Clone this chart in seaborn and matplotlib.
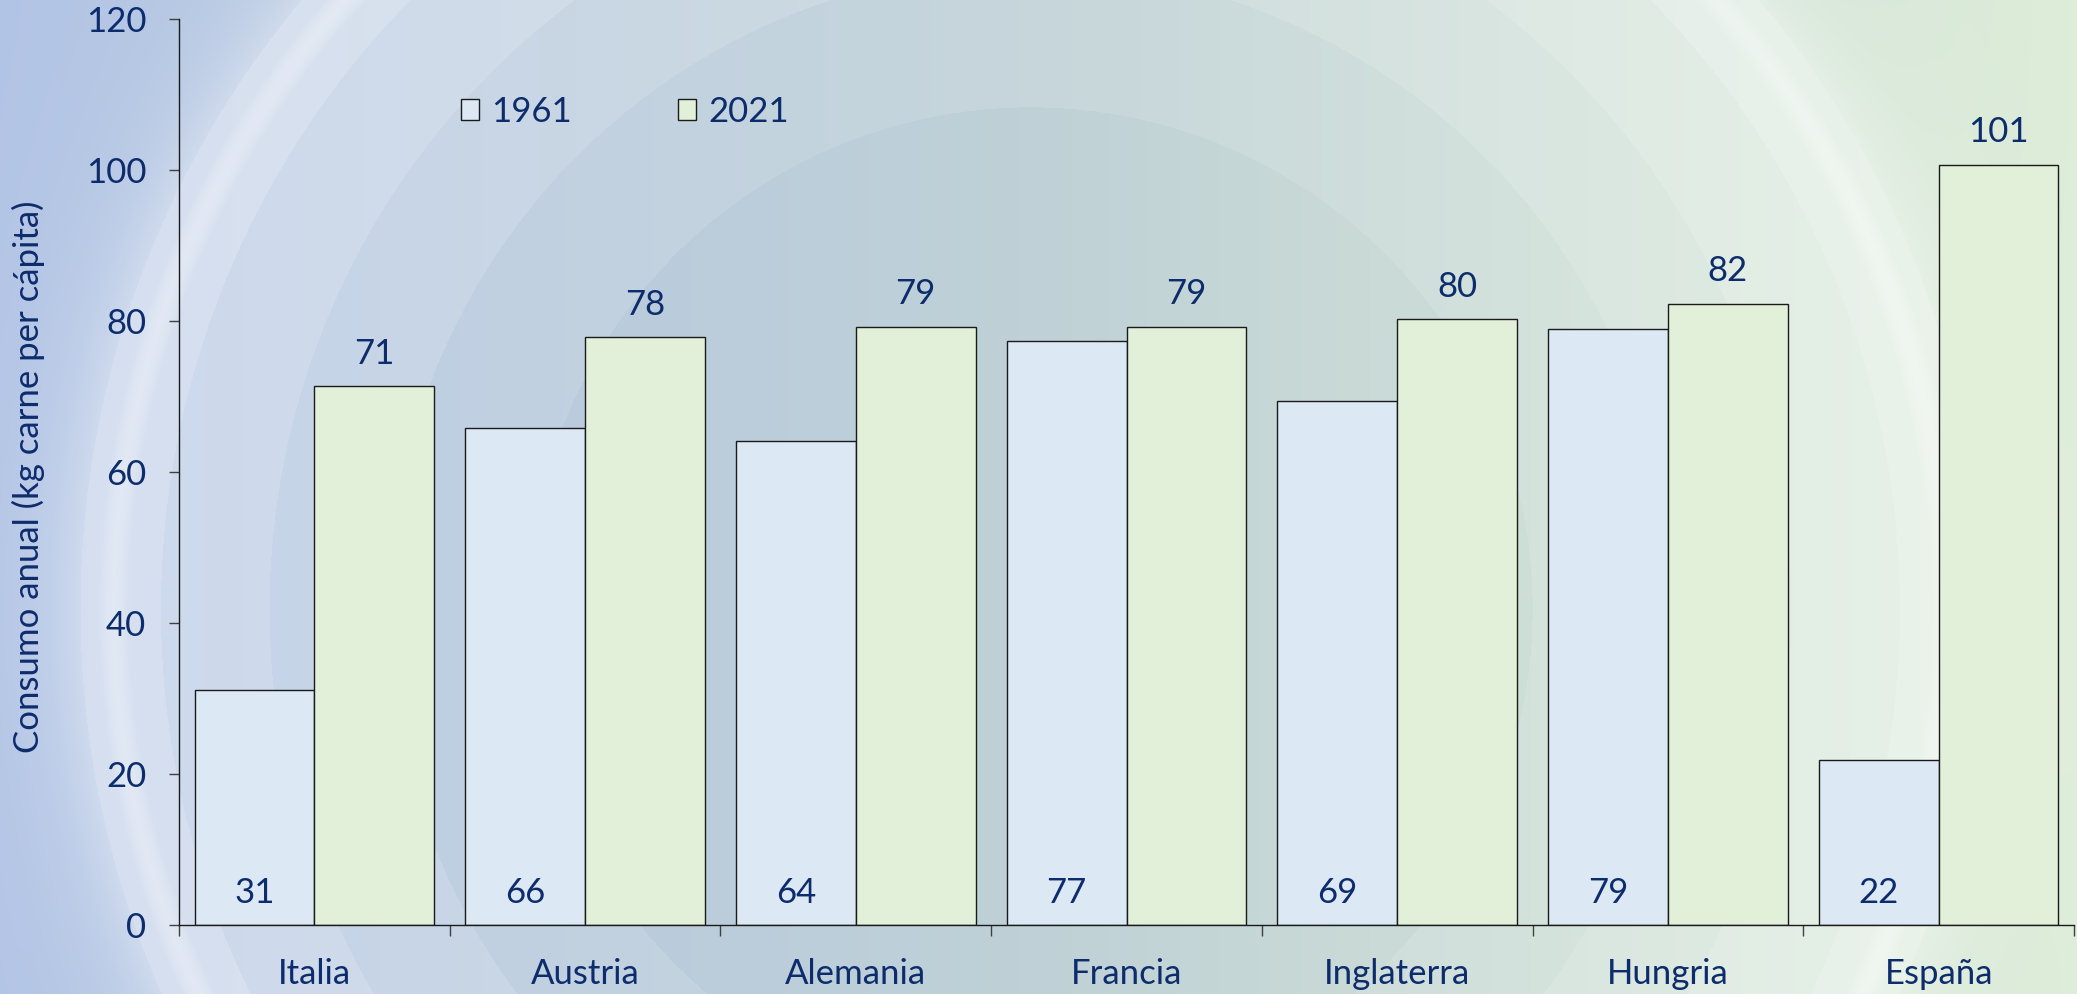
import numpy as np
import pandas as pd
import matplotlib
matplotlib.use("Agg")
import matplotlib.pyplot as plt
import seaborn as sns

# ---- data ----
paises = ["Italia", "Austria", "Alemania", "Francia", "Inglaterra", "Hungria", "España"]
anios = ["1961", "2021"]
consumo_1961 = [31.1, 65.8, 64.1, 77.3, 69.4, 78.9, 21.8]
consumo_2021 = [71.3, 77.8, 79.2, 79.2, 80.2, 82.2, 100.6]
yticks = [0, 20, 40, 60, 80, 100, 120]
ylabel = "Consumo anual (kg carne per cápita)"

df = pd.DataFrame({
    "pais": paises * 2,
    "anio": [anios[0]] * len(paises) + [anios[1]] * len(paises),
    "valor": consumo_1961 + consumo_2021,
})

NAVY = "#0D2C6C"
C1961 = "#DCE8F4"
C2021 = "#E2EFD9"
FS = 25

sns.set_theme(style="white")
plt.rcParams["font.family"] = ["Lato", "DejaVu Sans"]

W, H = 2077, 994
fig = plt.figure(figsize=(W / 100, H / 100), dpi=100)

# ---- decorative background ----
bg = fig.add_axes([0, 0, 1, 1], zorder=0)
yy, xx = np.mgrid[0:H, 0:W].astype(float)
t = np.clip(xx / W, 0, 1)[..., None]
left = np.array([0.70, 0.77, 0.90])
mid = np.array([0.75, 0.82, 0.84])
right = np.array([0.87, 0.93, 0.85])
base = np.where(t < 0.5, left + (mid - left) * (t / 0.5), mid + (right - mid) * ((t - 0.5) / 0.5))
r = np.sqrt((xx - 1030) ** 2 + (yy - 609) ** 2) / 950.0
inner = 0.48 * np.clip((r - 0.30) / 0.65, 0, 1) ** 1.4
inner = np.floor(inner * 9) / 9
ring = 0.6 * np.exp(-((r - 0.965) / 0.03) ** 2)
outer = np.where(r > 1.0, 0.35 * np.exp(-(r - 1.0) / 0.05), 0)
w = np.where(r <= 1.0, np.maximum(inner, ring), np.maximum(outer, ring))
w = np.clip(w, 0, 0.85)[..., None]
img = base * (1 - w) + w
bg.imshow(img, aspect="auto", extent=[0, 1, 0, 1], origin="upper")
bg.set_xlim(0, 1)
bg.set_ylim(0, 1)
bg.axis("off")

# ---- main chart ----
ax = fig.add_axes([179 / W, 69 / H, (2074 - 179) / W, (925 - 18.5) / H], zorder=1)
ax.patch.set_alpha(0)

sns.barplot(data=df, x="pais", y="valor", hue="anio", order=paises, hue_order=anios,
            palette=[C1961, C2021], saturation=1, width=0.885, edgecolor="#1A1A1A",
            linewidth=1.0, errorbar=None, ax=ax)

ax.set_xlim(-0.5, len(paises) - 0.5)
ax.set_ylim(0, 120)
ax.set_yticks(yticks)
ax.set_yticklabels([str(v) for v in yticks])

# value labels
c1, c2 = ax.containers[0], ax.containers[1]
for bar, v in zip(c1, consumo_1961):
    ax.text(bar.get_x() + bar.get_width() / 2, 4.2, f"{round(v)}", ha="center", va="center",
            fontsize=FS, color=NAVY)
for bar, v in zip(c2, consumo_2021):
    ax.annotate(f"{round(v)}", (bar.get_x() + bar.get_width() / 2, bar.get_height()),
                xytext=(0, 23.5), textcoords="offset points", ha="center", va="center",
                fontsize=FS, color=NAVY)

# x axis: ticks at boundaries, labels at centres
bounds = np.arange(-0.5, len(paises), 1.0)
ax.set_xticks(bounds)
ax.set_xticklabels([""] * len(bounds))
ax.set_xticks(np.arange(len(paises)), minor=True)
ax.set_xticklabels(paises, minor=True)
ax.tick_params(axis="x", which="major", length=8, width=1, color="#404040", bottom=True)
ax.tick_params(axis="x", which="minor", length=0, pad=24, labelsize=FS, labelcolor=NAVY, bottom=True)
ax.tick_params(axis="y", length=7.5, width=1, color="#404040", left=True, pad=16,
               labelsize=FS, labelcolor=NAVY)
ax.set_xlabel("")
ax.set_ylabel(ylabel, fontsize=FS, color=NAVY)
ax.yaxis.set_label_coords(-0.0705, 0.494)

for s in ["top", "right"]:
    ax.spines[s].set_visible(False)
for s in ["left", "bottom"]:
    ax.spines[s].set_color("#1A1A1A")
    ax.spines[s].set_linewidth(1.0)

handles, labels = ax.get_legend_handles_labels()
leg = ax.legend(handles, labels, ncol=2, frameon=False, loc="center left",
                bbox_to_anchor=(0.149, 0.897), handlelength=0.52, handleheight=0.52,
                handletextpad=0.35, columnspacing=3.05, fontsize=FS, borderpad=0,
                borderaxespad=0)
for txt in leg.get_texts():
    txt.set_color(NAVY)
for p in leg.get_patches():
    p.set_edgecolor("#1A1A1A")
    p.set_linewidth(1.0)

fig.savefig("out.png", dpi=100)
